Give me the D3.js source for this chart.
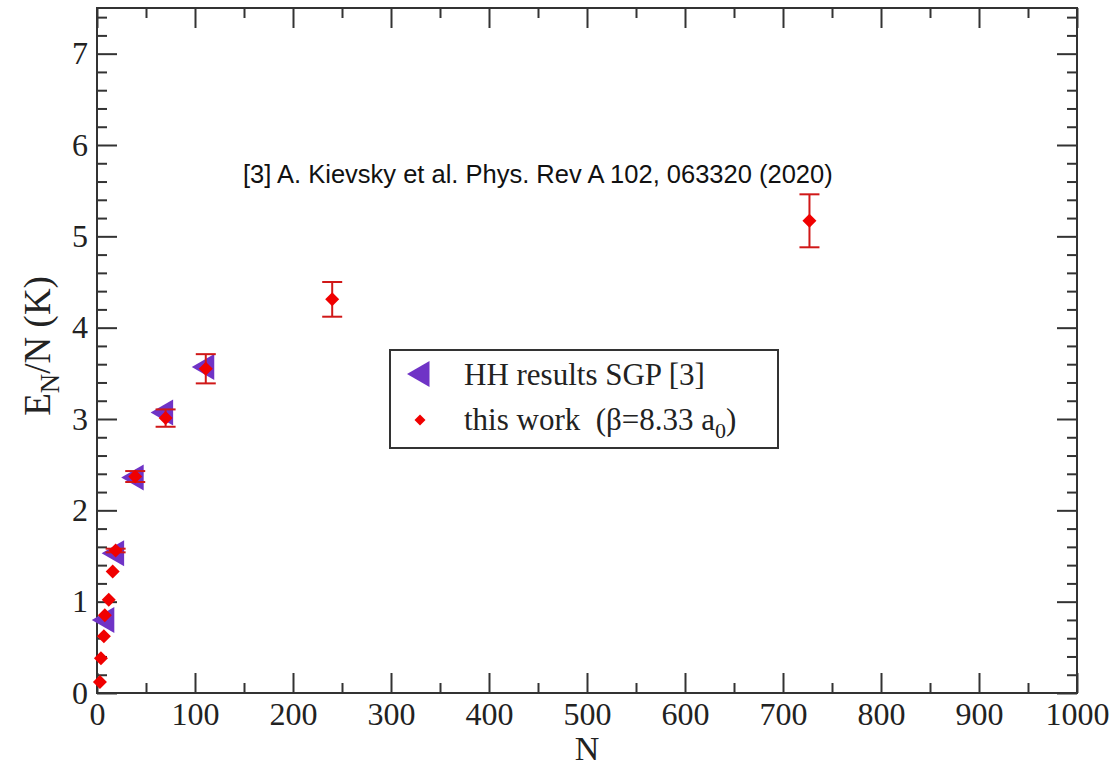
<!DOCTYPE html>
<html>
<head>
<meta charset="utf-8">
<script src="https://cdn.jsdelivr.net/npm/d3@7"></script>
<style>
  body { margin: 0; background: #fff; }
  .axis path, .axis line { stroke: #333; stroke-width: 2; }
  .axis text { font-family: "Liberation Serif", "Times New Roman", serif; font-size: 32px; fill: #222; }
</style>
</head>
<body>
<div class="chart"></div>
<script>
// HH results SGP [3]
let hhN = [10, 20, 40, 70, 112];
let hhE = [0.80, 1.53, 2.36, 3.07, 3.57];

// this work
let workN = [3, 4, 7, 8, 12, 16, 19, 39, 70, 111, 240, 727];
let workE = [0.12, 0.38, 0.62, 0.85, 1.02, 1.33, 1.56, 2.37, 3.01, 3.55, 4.31, 5.17];
let workErr = [0, 0, 0, 0, 0, 0, 0.02, 0.06, 0.095, 0.16, 0.19, 0.29];

let xTicks = [0, 100, 200, 300, 400, 500, 600, 700, 800, 900, 1000];
let yTicks = [0, 1, 2, 3, 4, 5, 6, 7];

let svg = d3.select(".chart").append("svg").attr("width", 1115).attr("height", 770),
    margin = {top: 8, right: 38, bottom: 77, left: 97},
    width = 1115 - margin.left - margin.right,
    height = 770 - margin.top - margin.bottom,
    g = svg.append("g").attr("transform", "translate(" + margin.left + "," + margin.top + ")");

let x = d3.scaleLinear().domain([0, 1000]).range([0, width]),
    y = d3.scaleLinear().domain([0, 7.5]).range([height, 0]);

let xMinor = d3.range(50, 1000, 100),
    yMinor = d3.range(0, 7.5, 0.2).filter(v => Math.abs(v - Math.round(v)) > 0.01);

// minor ticks (all four sides)
g.append("g").attr("class", "axis").attr("transform", "translate(0," + height + ")")
    .call(d3.axisBottom(x).tickValues(xMinor).tickSize(-10).tickFormat(""));
g.append("g").attr("class", "axis")
    .call(d3.axisTop(x).tickValues(xMinor).tickSize(-10).tickFormat(""));
g.append("g").attr("class", "axis")
    .call(d3.axisLeft(y).tickValues(yMinor).tickSize(-10).tickFormat(""));
g.append("g").attr("class", "axis").attr("transform", "translate(" + width + ",0)")
    .call(d3.axisRight(y).tickValues(yMinor).tickSize(-10).tickFormat(""));

// major ticks
g.append("g").attr("class", "axis").attr("transform", "translate(0," + height + ")")
    .call(d3.axisBottom(x).tickValues(xTicks).tickSize(-20).tickPadding(5).tickFormat(d3.format("d")))
    .selectAll("text").attr("dy", "0.85em");
g.append("g").attr("class", "axis")
    .call(d3.axisTop(x).tickValues(xTicks).tickSize(-20).tickFormat(""));
g.append("g").attr("class", "axis")
    .call(d3.axisLeft(y).tickValues(yTicks).tickSize(-20).tickPadding(9).tickFormat(d3.format("d")));
g.append("g").attr("class", "axis").attr("transform", "translate(" + width + ",0)")
    .call(d3.axisRight(y).tickValues(yTicks).tickSize(-20).tickFormat(""));

g.selectAll(".axis .domain").remove();
g.append("rect").attr("width", width).attr("height", height)
    .attr("fill", "none").attr("stroke", "#333").attr("stroke-width", 2);

// axis titles
svg.append("text")
    .attr("x", margin.left + x(500)).attr("y", 760)
    .attr("text-anchor", "middle")
    .style("font", "34px 'Liberation Serif', serif").attr("fill", "#222")
    .text("N");

let yl = svg.append("text")
    .attr("transform", "translate(50," + (margin.top + y(3.8)) + ") rotate(-90)")
    .attr("text-anchor", "middle")
    .style("font", "37px 'Liberation Serif', serif").attr("fill", "#222");
yl.append("tspan").text("E");
yl.append("tspan").attr("dy", 9).style("font-size", "27px").text("N");
yl.append("tspan").attr("dy", -9).text("/N (K)");

// reference note
svg.append("text")
    .attr("x", 243).attr("y", 183)
    .style("font", "25.5px 'Liberation Sans', Arial, sans-serif").attr("fill", "#111")
    .text("[3] A. Kievsky et al. Phys. Rev A 102, 063320 (2020)");

let triangle = "M-15,0L7.5,-13L7.5,13Z",
    purple = "#6f33c6",
    red = "#f00000",
    errColor = "#d01818";

// HH triangles
g.selectAll(".hh")
    .data(hhN.map((n, i) => ({n: n, e: hhE[i]})))
    .enter().append("path")
    .attr("class", "hh")
    .attr("d", triangle)
    .attr("fill", purple)
    .attr("transform", d => "translate(" + x(d.n) + "," + y(d.e) + ")");

// error bars
let work = workN.map((n, i) => ({n: n, e: workE[i], err: workErr[i]}));
let eb = g.selectAll(".err").data(work.filter(d => d.err > 0)).enter().append("g").attr("class", "err")
    .attr("stroke", errColor).attr("stroke-width", 2);
eb.append("line")
    .attr("x1", d => x(d.n)).attr("x2", d => x(d.n))
    .attr("y1", d => y(d.e - d.err)).attr("y2", d => y(d.e + d.err));
eb.append("line")
    .attr("x1", d => x(d.n) - 10).attr("x2", d => x(d.n) + 10)
    .attr("y1", d => y(d.e - d.err)).attr("y2", d => y(d.e - d.err));
eb.append("line")
    .attr("x1", d => x(d.n) - 10).attr("x2", d => x(d.n) + 10)
    .attr("y1", d => y(d.e + d.err)).attr("y2", d => y(d.e + d.err));

// diamonds
let diamond = "M0,-7L7,0L0,7L-7,0Z";
g.selectAll(".work")
    .data(work)
    .enter().append("path")
    .attr("class", "work")
    .attr("d", diamond)
    .attr("fill", red)
    .attr("transform", d => "translate(" + x(d.n) + "," + y(d.e) + ")");

// legend
let leg = svg.append("g").attr("transform", "translate(390,350)");
leg.append("rect").attr("width", 388).attr("height", 98)
    .attr("fill", "#fff").attr("stroke", "#333").attr("stroke-width", 2);
leg.append("path").attr("d", triangle).attr("fill", purple).attr("transform", "translate(32,24)");
leg.append("path").attr("d", "M0,-5.5L5.5,0L0,5.5L-5.5,0Z").attr("fill", red).attr("transform", "translate(30,70)");
leg.append("text").attr("x", 74).attr("y", 35)
    .style("font", "31px 'Liberation Serif', serif").attr("fill", "#222")
    .text("HH results SGP [3]");
let lt = leg.append("text").attr("x", 74).attr("y", 80)
    .style("font", "31px 'Liberation Serif', serif").attr("fill", "#222")
    .attr("xml:space", "preserve");
lt.append("tspan").text("this work  (\u03B2=8.33 a");
lt.append("tspan").attr("dy", 8).style("font-size", "22px").text("0");
lt.append("tspan").attr("dy", -8).text(")");
</script>
</body>
</html>
